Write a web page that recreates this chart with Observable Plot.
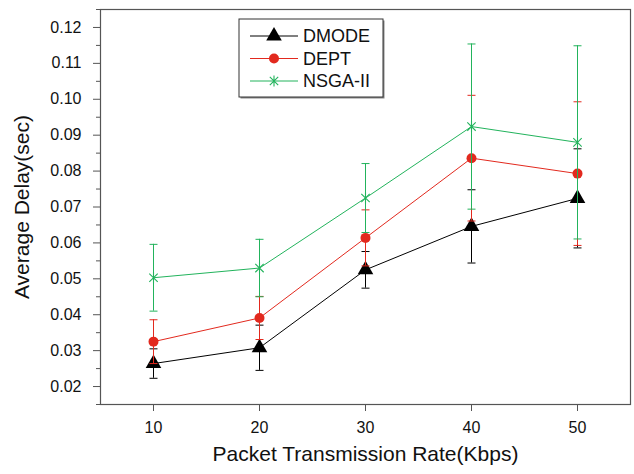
<!DOCTYPE html>
<html>
<head>
<meta charset="utf-8">
<script src="https://cdn.jsdelivr.net/npm/d3@7"></script>
<script src="https://cdn.jsdelivr.net/npm/@observablehq/plot@0.6"></script>
<style>
  html, body { margin: 0; padding: 0; background: #fff; }
  #wrap { position: relative; width: 634px; height: 474px; font-family: "Liberation Sans", Arial, sans-serif; }
  #wrap svg.overlay { position: absolute; left: 0; top: 0; pointer-events: none; }
</style>
</head>
<body>
<div id="wrap"></div>
<script>
// ---- data ----
const rates = [10, 20, 30, 40, 50];
const seriesNames = ["DMODE", "DEPT", "NSGA-II"];
const dmode = [0.0264, 0.0308, 0.0525, 0.0646, 0.0724];
const dmodeErr = [0.0041, 0.0063, 0.0051, 0.0102, 0.0138];
const dept = [0.0325, 0.0391, 0.0614, 0.0836, 0.0793];
const deptErr = [0.0061, 0.0060, 0.0078, 0.0175, 0.0200];
const nsga = [0.0503, 0.0530, 0.0725, 0.0924, 0.0880];
const nsgaErr = [0.0093, 0.0080, 0.0096, 0.0230, 0.0269];
const yTicks = [0.02, 0.03, 0.04, 0.05, 0.06, 0.07, 0.08, 0.09, 0.10, 0.11, 0.12];
const yMinorTicks = [0.015, 0.025, 0.035, 0.045, 0.055, 0.065, 0.075, 0.085, 0.095, 0.105, 0.115, 0.125];
const xTicks = [10, 20, 30, 40, 50];
const xTitle = "Packet Transmission Rate(Kbps)";
const yTitle = "Average Delay(sec)";

// ---- styles ----
const colors = ["#000000", "#e2291e", "#22b35c"];

const capSymbol = { draw(ctx) { ctx.moveTo(-4, 0); ctx.lineTo(4, 0); } };
const starSymbol = { draw(ctx) {
  const r = 5.5, k = 4.2;
  ctx.moveTo(0, -r); ctx.lineTo(0, r);
  ctx.moveTo(-k, -k); ctx.lineTo(k, k);
  ctx.moveTo(-k, k); ctx.lineTo(k, -k);
} };

const valuesList = [dmode, dept, nsga];
const errList = [dmodeErr, deptErr, nsgaErr];
const series = seriesNames.map((name, s) => ({
  name, color: colors[s],
  data: rates.map((x, i) => ({
    x, y: valuesList[s][i],
    lo: valuesList[s][i] - errList[s][i],
    hi: valuesList[s][i] + errList[s][i]
  }))
}));

const marks = [];
series.forEach((s, si) => {
  marks.push(Plot.ruleX(s.data, { x: "x", y1: "lo", y2: "hi", stroke: s.color, strokeWidth: 1 }));
  marks.push(Plot.dot(s.data, { x: "x", y: "lo", symbol: capSymbol, stroke: s.color, fill: "none", strokeWidth: 1 }));
  marks.push(Plot.dot(s.data, { x: "x", y: "hi", symbol: capSymbol, stroke: s.color, fill: "none", strokeWidth: 1 }));
  marks.push(Plot.line(s.data, { x: "x", y: "y", stroke: s.color, strokeWidth: 1 }));
  if (si === 0) marks.push(Plot.dot(s.data, { x: "x", y: "y", symbol: "triangle", r: 5.8, fill: s.color, stroke: "none" }));
  if (si === 1) marks.push(Plot.dot(s.data, { x: "x", y: "y", symbol: "circle", r: 5, fill: s.color, stroke: "none" }));
  if (si === 2) marks.push(Plot.dot(s.data, { x: "x", y: "y", symbol: starSymbol, stroke: s.color, fill: "none", strokeWidth: 1.1 }));
});

const chart = Plot.plot({
  width: 634,
  height: 474,
  marginLeft: 100,
  marginRight: 4,
  marginTop: 9,
  marginBottom: 70,
  style: { fontFamily: "'Liberation Sans', Arial, sans-serif", background: "#fff", color: "#111" },
  x: { domain: [5, 55] },
  y: { domain: [0.015, 0.125] },
  marks: [
    ...marks,
    Plot.axisY({ ticks: yMinorTicks, tickSize: 4, tickFormat: () => "", label: null, stroke: "#555" }),
    Plot.axisY({ ticks: yTicks, tickSize: 7, tickPadding: 12, tickFormat: d3.format(".2f"), label: null, fontSize: 16, stroke: "#555" }),
    Plot.axisX({ ticks: xTicks, tickSize: 7, tickPadding: 10, tickFormat: d3.format("d"), label: null, fontSize: 16, stroke: "#555" }),
    Plot.frame({ stroke: "#555", strokeWidth: 1.2 }),
    Plot.text([xTitle], { text: d => d, frameAnchor: "bottom", dy: 56, fontSize: 21, fill: "#111" }),
    Plot.text([yTitle], { text: d => d, frameAnchor: "left", textAnchor: "middle", dx: -78, rotate: -90, fontSize: 21, fill: "#111" })
  ]
});

const wrap = document.getElementById("wrap");
wrap.appendChild(chart);

// ---- legend overlay ----
const legend = d3.select(wrap).append("svg")
  .attr("class", "overlay").attr("width", 634).attr("height", 474);
const lx = 239, ly = 19, lw = 144, lh = 78;
legend.append("rect").attr("x", lx + 1.5).attr("y", ly + 1.5).attr("width", lw).attr("height", lh).attr("fill", "#888");
legend.append("rect").attr("x", lx).attr("y", ly).attr("width", lw).attr("height", lh)
  .attr("fill", "#fff").attr("stroke", "#333").attr("stroke-width", 1);
const symbolPaths = [
  d3.symbol(d3.symbolTriangle, Math.PI * 5.8 * 5.8)(),
  d3.symbol(d3.symbolCircle, Math.PI * 5 * 5)(),
  "M0,-5.5L0,5.5M-4.2,-4.2L4.2,4.2M-4.2,4.2L4.2,-4.2"
];
seriesNames.forEach((name, i) => {
  const y = 36 + i * 22.5;
  const g = legend.append("g");
  g.append("line").attr("x1", 250).attr("x2", 298).attr("y1", y).attr("y2", y)
    .attr("stroke", colors[i]).attr("stroke-width", 1);
  const p = g.append("path").attr("d", symbolPaths[i]).attr("transform", `translate(274,${y})`);
  if (i === 2) p.attr("fill", "none").attr("stroke", colors[i]).attr("stroke-width", 1.1);
  else p.attr("fill", colors[i]);
  g.append("text").attr("x", 303).attr("y", y).attr("dy", "0.35em")
    .attr("font-size", 18).attr("fill", "#111")
    .attr("font-family", "'Liberation Sans', Arial, sans-serif").text(name);
});
</script>
</body>
</html>
